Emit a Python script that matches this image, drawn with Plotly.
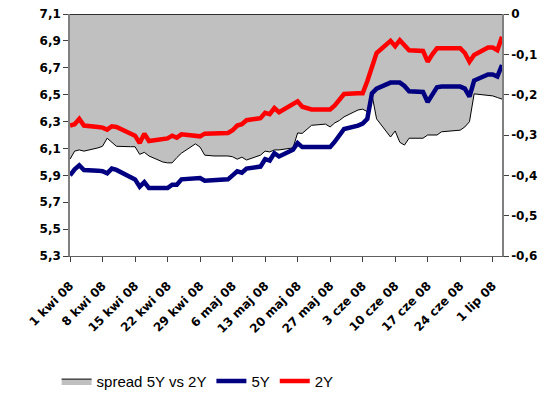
import plotly.graph_objects as go

dates = [
    "2008-04-01", "2008-04-02", "2008-04-03", "2008-04-04",
    "2008-04-07", "2008-04-08", "2008-04-09", "2008-04-10", "2008-04-11",
    "2008-04-14", "2008-04-15", "2008-04-16", "2008-04-17", "2008-04-18",
    "2008-04-21", "2008-04-22", "2008-04-23", "2008-04-24", "2008-04-25",
    "2008-04-28", "2008-04-29", "2008-04-30", "2008-05-02",
    "2008-05-05", "2008-05-06", "2008-05-07", "2008-05-08", "2008-05-09",
    "2008-05-12", "2008-05-13", "2008-05-14", "2008-05-15", "2008-05-16",
    "2008-05-19", "2008-05-20", "2008-05-21", "2008-05-23",
    "2008-05-26", "2008-05-27", "2008-05-28", "2008-05-29", "2008-05-30",
    "2008-06-02", "2008-06-03", "2008-06-04", "2008-06-05", "2008-06-06",
    "2008-06-09", "2008-06-10", "2008-06-11", "2008-06-12", "2008-06-13",
    "2008-06-16", "2008-06-17", "2008-06-18", "2008-06-19", "2008-06-20",
    "2008-06-23", "2008-06-24", "2008-06-25", "2008-06-26", "2008-06-27",
    "2008-06-30", "2008-07-01", "2008-07-02", "2008-07-03",
]

y2y = [
    6.27, 6.28, 6.32, 6.27,
    6.26, 6.255, 6.24, 6.265, 6.26,
    6.21, 6.195, 6.14, 6.21, 6.155,
    6.165, 6.175, 6.195, 6.18, 6.205,
    6.195, 6.19, 6.21, 6.21,
    6.215, 6.235, 6.27, 6.28, 6.31,
    6.325, 6.365, 6.355, 6.40, 6.37,
    6.43, 6.45, 6.41, 6.39,
    6.39, 6.39, 6.42, 6.46, 6.505,
    6.51, 6.51, 6.60, 6.72, 6.81,
    6.90, 6.86, 6.905, 6.87, 6.83,
    6.825, 6.745, 6.80, 6.845, 6.845,
    6.845, 6.845, 6.81, 6.745, 6.795,
    6.85, 6.85, 6.83, 6.93,
]

y5y = [
    5.90, 5.945, 5.975, 5.94,
    5.935, 5.93, 5.915, 5.95, 5.94,
    5.885, 5.87, 5.815, 5.85, 5.805,
    5.80, 5.805, 5.83, 5.83, 5.87,
    5.875, 5.88, 5.86, 5.865,
    5.87, 5.90, 5.93, 5.92, 5.95,
    5.965, 6.02, 6.01, 6.065, 6.04,
    6.09, 6.14, 6.11, 6.11,
    6.11, 6.11, 6.15, 6.20, 6.245,
    6.27, 6.285, 6.32, 6.51, 6.545,
    6.59, 6.59, 6.59, 6.565, 6.525,
    6.52, 6.445, 6.50, 6.555, 6.56,
    6.56, 6.56, 6.545, 6.485, 6.605,
    6.65, 6.65, 6.635, 6.72,
]

spread = [
    -0.36, -0.34, -0.337, -0.34,
    -0.332, -0.328, -0.308, -0.318, -0.328,
    -0.329, -0.329, -0.348, -0.343, -0.352,
    -0.367, -0.369, -0.369, -0.356, -0.345,
    -0.322, -0.33, -0.35, -0.352,
    -0.352, -0.354, -0.36, -0.355, -0.362,
    -0.35, -0.34, -0.342, -0.337, -0.337,
    -0.332, -0.295, -0.296, -0.276,
    -0.273, -0.28, -0.27, -0.264, -0.255,
    -0.238, -0.236, -0.242, -0.20, -0.26,
    -0.305, -0.29, -0.318, -0.325, -0.308,
    -0.308, -0.30, -0.30, -0.30, -0.292,
    -0.29, -0.288, -0.28, -0.267, -0.198,
    -0.201, -0.203, -0.207, -0.211,
]

tick_dates = [
    "2008-04-01", "2008-04-08", "2008-04-15", "2008-04-22", "2008-04-29",
    "2008-05-06", "2008-05-13", "2008-05-20", "2008-05-27", "2008-06-03",
    "2008-06-10", "2008-06-17", "2008-06-24", "2008-07-01",
]
tick_labels = [
    "1 kwi 08", "8 kwi 08", "15 kwi 08", "22 kwi 08", "29 kwi 08",
    "6 maj 08", "13 maj 08", "20 maj 08", "27 maj 08", "3 cze 08",
    "10 cze 08", "17 cze 08", "24 cze 08", "1 lip 08",
]

left_vals = [5.3, 5.5, 5.7, 5.9, 6.1, 6.3, 6.5, 6.7, 6.9, 7.1]
left_text = ["5,3", "5,5", "5,7", "5,9", "6,1", "6,3", "6,5", "6,7", "6,9", "7,1"]
right_vals = [-0.6, -0.5, -0.4, -0.3, -0.2, -0.1, 0]
right_text = ["-0,6", "-0,5", "-0,4", "-0,3", "-0,2", "-0,1", "0"]

TICKFONT = dict(family="DejaVu Sans", size=12, color="black", weight="bold")
LEGFONT = dict(family="Liberation Sans, Arial, sans-serif", size=15, color="black")

fig = go.Figure()
fig.add_trace(go.Scatter(
    x=dates, y=spread, name="spread 5Y vs 2Y", mode="lines", yaxis="y",
    fill="tozeroy", fillcolor="#C0C0C0", line=dict(color="black", width=1),
))
fig.add_trace(go.Scatter(
    x=dates, y=y5y, name="5Y", mode="lines", yaxis="y2",
    line=dict(color="#000080", width=4.5),
))
fig.add_trace(go.Scatter(
    x=dates, y=y2y, name="2Y", mode="lines", yaxis="y2",
    line=dict(color="#FF0000", width=4.5),
))

fig.update_layout(
    width=540, height=393,
    margin=dict(l=62, r=46, t=6, b=145, autoexpand=False),
    paper_bgcolor="white", plot_bgcolor="white",
    font=LEGFONT,
    showlegend=True,
    legend=dict(
        orientation="h", xref="container", yref="container",
        x=0.09, y=0.05, xanchor="left", yanchor="middle",
        font=LEGFONT, bgcolor="rgba(0,0,0,0)", itemwidth=30, tracegroupgap=0,
    ),
    xaxis=dict(
        type="date", range=["2008-04-01", "2008-07-03"],
        tickvals=tick_dates, ticktext=tick_labels, tickangle=-45,
        tickfont=TICKFONT, automargin=False, ticklabeloverflow="allow",
        ticklabelstandoff=12,
        ticks="outside", ticklen=5, tickcolor="#404040",
        showline=True, linecolor="#606060", linewidth=1,
        showgrid=False, zeroline=False, anchor="y",
    ),
    yaxis=dict(
        side="right", range=[-0.6, 0], automargin=False,
        ticklabeloverflow="allow",
        tickvals=right_vals, ticktext=right_text, tickfont=TICKFONT,
        ticks="outside", ticklen=5, tickcolor="#404040",
        showline=True, linecolor="#808080", linewidth=1.5,
        showgrid=False, zeroline=False,
    ),
    yaxis2=dict(
        side="left", overlaying="y", range=[5.3, 7.1], automargin=False,
        ticklabeloverflow="allow",
        tickvals=left_vals, ticktext=left_text, tickfont=TICKFONT,
        ticks="outside", ticklen=5, tickcolor="#404040",
        showline=True, linecolor="#808080", linewidth=1.5,
        showgrid=False, zeroline=False,
    ),
    shapes=[dict(
        type="line", xref="paper", yref="y", x0=0, x1=1, y0=0, y1=0,
        line=dict(color="black", width=1.5), layer="above",
    )],
)

fig.write_html("out.html")
